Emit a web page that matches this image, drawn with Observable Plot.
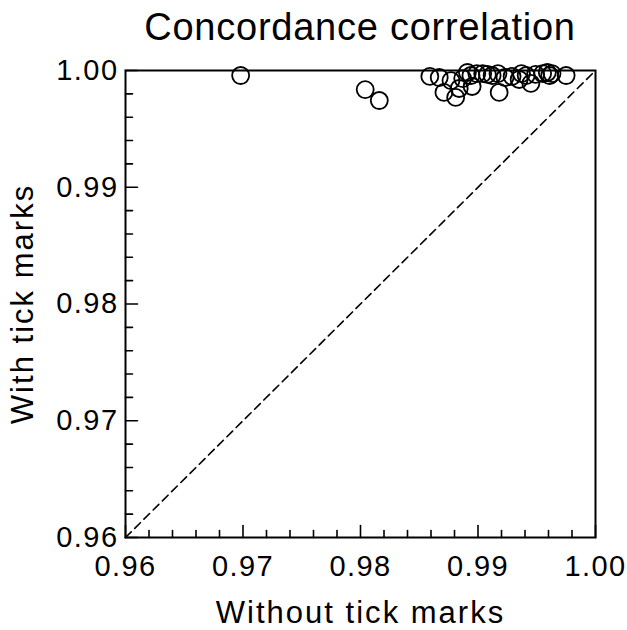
<!DOCTYPE html>
<html>
<head>
<meta charset="utf-8">
<script src="https://cdn.jsdelivr.net/npm/d3@7"></script>
<script src="https://cdn.jsdelivr.net/npm/@observablehq/plot@0.6"></script>
<style>
  html, body { margin: 0; padding: 0; background: #fff; }
  #title { box-sizing: border-box; width: 627px; height: 50px; padding: 0 32px 0 125px;
           text-align: center; font-family: "Liberation Sans", Arial, sans-serif; font-size: 38px;
           letter-spacing: 0.02em; line-height: 54px; color: #000; white-space: nowrap; }
  #chart svg g[aria-label="x-axis tick label"] text,
  #chart svg g[aria-label="y-axis tick label"] text { letter-spacing: 0.05em; }
  #chart svg g[aria-label="text"] text { letter-spacing: 0.065em; }
</style>
</head>
<body>
<div id="title"></div>
<div id="chart"></div>
<script>
const titleText = "Concordance correlation";
const xLabel = "Without tick marks";
const yLabel = "With tick marks";

const withoutTicks = [0.9698, 0.9804, 0.9816, 0.9859, 0.9867, 0.9871, 0.9877, 0.9881, 0.9884, 0.9887,
  0.9891, 0.9894, 0.9895, 0.9899, 0.9904, 0.9908, 0.9912, 0.9917, 0.9918, 0.9923, 0.9929, 0.9935,
  0.9937, 0.9941, 0.9945, 0.9949, 0.9955, 0.9959, 0.9961, 0.9963, 0.9975];
const withTicks = [0.99957, 0.99837, 0.99743, 0.99949, 0.99940, 0.99812, 0.99914, 0.99769, 0.99846, 0.99931,
  0.99983, 0.99957, 0.99863, 0.99974, 0.99974, 0.99966, 0.99957, 0.99974, 0.99812, 0.99940, 0.99949, 0.99923,
  0.99974, 0.99957, 0.99889, 0.99966, 0.99974, 0.99983, 0.99957, 0.99974, 0.99957];

const majorTicks = [0.96, 0.97, 0.98, 0.99, 1.00];
const minorTicks = [0.962, 0.964, 0.966, 0.968, 0.972, 0.974, 0.976, 0.978, 0.982, 0.984, 0.986, 0.988,
  0.992, 0.994, 0.996, 0.998];
const identityLine = [0.96, 1.00];

document.getElementById("title").textContent = titleText;

const points = withoutTicks.map((x, i) => ({x, y: withTicks[i]}));
const diag = identityLine.map(v => ({x: v, y: v}));

// tick drawn from the anchor point, pointing into the frame
const tickShape = {draw(context, l) { context.moveTo(0, 0); context.lineTo(0, l); }};
const tickStyle = {anchor: "start", shape: tickShape, stroke: "#000", strokeWidth: 1.6};

const chart = Plot.plot({
  width: 627,
  height: 580,
  marginLeft: 125,
  marginRight: 32,
  marginTop: 20,
  marginBottom: 93,
  style: {fontFamily: "Liberation Sans, Arial, sans-serif", fontSize: "29px", color: "#000", background: "#fff"},
  x: {domain: [0.96, 1.00], axis: null},
  y: {domain: [0.96, 1.00], axis: null},
  marks: [
    Plot.line(diag, {x: "x", y: "y", stroke: "#000", strokeWidth: 1.6, strokeDasharray: "8,5"}),
    Plot.dot(points, {x: "x", y: "y", r: 8.5, stroke: "#000", strokeWidth: 1.8, fill: "none"}),
    Plot.vector(majorTicks, {x: d => d, frameAnchor: "bottom", length: 12, rotate: 180, ...tickStyle}),
    Plot.vector(minorTicks, {x: d => d, frameAnchor: "bottom", length: 7, rotate: 180, ...tickStyle}),
    Plot.vector(majorTicks, {y: d => d, frameAnchor: "left", length: 12, rotate: -90, ...tickStyle}),
    Plot.vector(minorTicks, {y: d => d, frameAnchor: "left", length: 7, rotate: -90, ...tickStyle}),
    Plot.frame({stroke: "#000", strokeWidth: 2}),
    Plot.axisX(majorTicks, {tickSize: 0, tickPadding: 18, tickFormat: d3.format(".2f"), label: null, fontSize: 29}),
    Plot.axisY(majorTicks, {tickSize: 0, tickPadding: 7, tickFormat: d3.format(".2f"), label: null, fontSize: 29}),
    Plot.text([xLabel], {text: d => d, frameAnchor: "bottom", textAnchor: "middle", lineAnchor: "middle", dy: 76, fontSize: 31, fill: "#000"}),
    Plot.text([yLabel], {text: d => d, frameAnchor: "left", textAnchor: "middle", lineAnchor: "middle", dx: -102, rotate: -90, fontSize: 31, fill: "#000"})
  ]
});
document.getElementById("chart").appendChild(chart);
</script>
</body>
</html>
